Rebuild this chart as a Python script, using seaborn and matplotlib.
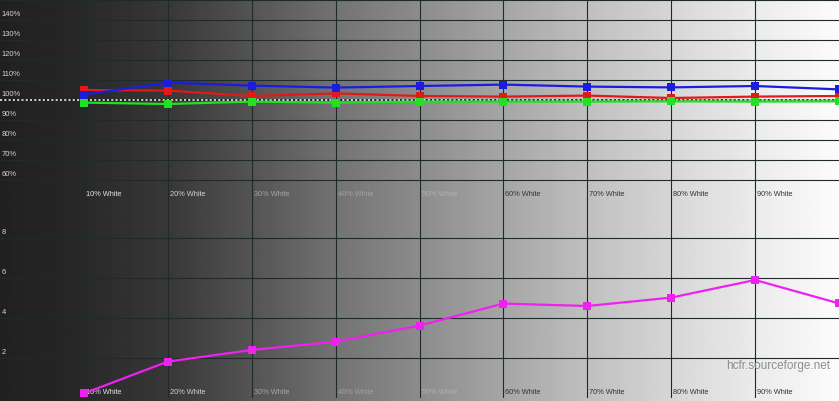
import numpy as np
import pandas as pd
import matplotlib
matplotlib.use("Agg")
import matplotlib.pyplot as plt
import matplotlib.transforms as mtransforms
import seaborn as sns

# Grey scale levels (% White)
levels = [10, 20, 30, 40, 50, 60, 70, 80, 90, 100]
level_labels = [f"{v}% White" for v in levels[:-1]]

# RGB levels (%)
red = [105.0, 104.7, 102.0, 103.3, 102.0, 101.7, 102.2, 101.0, 101.7, 102.0]
green = [98.7, 98.0, 99.2, 98.7, 99.2, 99.2, 99.2, 99.3, 99.2, 99.3]
blue = [102.7, 108.7, 107.2, 106.2, 107.0, 107.7, 106.7, 106.3, 107.0, 105.3]

# delta E per level
delta_e = [0.23, 1.82, 2.40, 2.82, 3.62, 4.72, 4.60, 5.02, 5.90, 4.73]

rgb_ticks = [60, 70, 80, 90, 100, 110, 120, 130, 140]
de_ticks = [2, 4, 6, 8]

sns.set_style("white")
plt.rcParams["font.family"] = ["Liberation Sans", "DejaVu Sans"]

W, H = 839, 401
fig = plt.figure(figsize=(W / 100, H / 100), dpi=100)

# background: horizontal grey ramp, dark on the left, white on the right
bg = fig.add_axes([0, 0, 1, 1])
xs = np.linspace(0, 1, 400)
ramp = np.interp(xs, [0, 0.08, 0.2, 0.3, 0.4, 0.5, 0.6, 0.7, 0.8, 0.9, 1.0],
                 [0.13, 0.15, 0.22, 0.33, 0.45, 0.55, 0.65, 0.75, 0.84, 0.92, 0.985])
bg.imshow(np.tile(ramp, (2, 1)), cmap="gray", vmin=0, vmax=1,
          aspect="auto", extent=[0, 1, 0, 1], interpolation="bilinear")
bg.set_axis_off()

ax_top = fig.add_axes([0, 1 - 200 / H, 1, 200 / H])
ax_bot = fig.add_axes([0, 3 / H, 1, 200 / H])

grid_col = "#1f2b2b"
lab_light = "#d6d6d6"
# label colour per level so they read against the ramp like the original
level_cols = ["#e4e4e4", "#d2d2d2", "#a6a6a6", "#a2a2a2", "#b0b0b0",
              "#333333", "#333333", "#333333", "#333333"]

for ax in (ax_top, ax_bot):
    ax.set_facecolor("none")
    for s in ax.spines.values():
        s.set_visible(False)
    ax.set_xticks([])
    ax.set_yticks([])
    for v in levels[:-1]:
        ax.axvline(v, color=grid_col, lw=0.8, zorder=1)

for v in rgb_ticks + [150]:
    if v != 100:
        ax_top.axhline(v, color=grid_col, lw=0.8, zorder=1)
for v in de_ticks:
    ax_bot.axhline(v, color=grid_col, lw=0.8, zorder=1)

# 100 % reference line
ax_top.axhline(100, color="#111111", lw=1.1, zorder=2)
ax_top.axhline(100, color="white", lw=1.1, dashes=(1.4, 1.4), zorder=2)

# y labels sit just above their gridline
for ax, ticks, fmt in ((ax_top, rgb_ticks, "{}%"), (ax_bot, de_ticks, "{}")):
    tr = mtransforms.offset_copy(
        mtransforms.blended_transform_factory(ax.transAxes, ax.transData),
        fig=fig, x=0, y=5, units="dots")
    for v in ticks:
        ax.text(0.002, v, fmt.format(v), transform=tr, ha="left", va="center",
                fontsize=5.4, color=lab_light, zorder=3)

# x labels inside each panel, right of the gridlines
for ax, off in ((ax_top, 6), (ax_bot, 5)):
    tr = mtransforms.blended_transform_factory(ax.transData, ax.transAxes)
    for v, lab, c in zip(levels[:-1], level_labels, level_cols):
        ax.text(v + 0.25, off / 200, lab, transform=tr, ha="left", va="center",
                fontsize=5.3, color=c, zorder=3)

df = pd.DataFrame({
    "level": levels * 3,
    "value": red + green + blue,
    "channel": ["Red"] * 10 + ["Green"] * 10 + ["Blue"] * 10,
})
sns.lineplot(data=df, x="level", y="value", hue="channel",
             palette={"Red": "#e01a1a", "Green": "#22e022", "Blue": "#1c1ce0"},
             marker="s", markersize=5.2, markeredgewidth=0, linewidth=1.6,
             legend=False, ax=ax_top, zorder=4)

sns.lineplot(x=levels, y=delta_e, color="#ee22ee", marker="s", markersize=5.2,
             markeredgewidth=0, linewidth=1.6, legend=False, ax=ax_bot, zorder=4)

for ax in (ax_top, ax_bot):
    ax.set_xlabel("")
    ax.set_ylabel("")
    ax.set_xlim(0, 100)

ax_top.set_ylim(50, 150)
ax_bot.set_ylim(0, 10)

ax_bot.text(0.99, 0.16, "hcfr.sourceforge.net", transform=ax_bot.transAxes,
            ha="right", va="center", fontsize=8.5, color="#8e8e8e", zorder=3)

fig.savefig("out.png", dpi=100)
